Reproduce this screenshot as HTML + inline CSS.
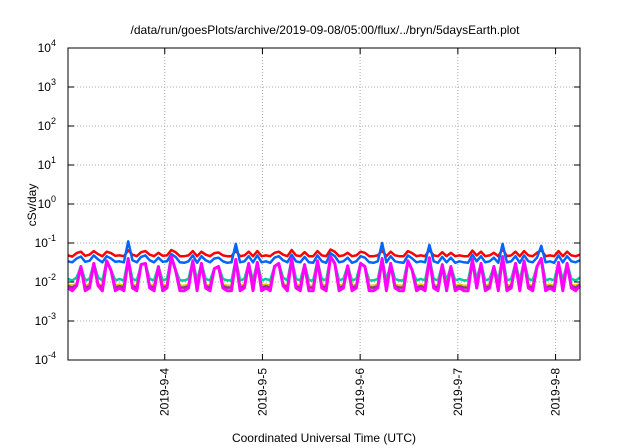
<!DOCTYPE html>
<html><head><meta charset="utf-8"><style>
html,body{margin:0;padding:0;background:#fff;}
svg{display:block;font-family:"Liberation Sans",sans-serif;}
</style></head><body>
<svg id="chart" width="640" height="448" viewBox="0 0 640 448">
<text x="325" y="34" font-size="12" text-anchor="middle">/data/run/goesPlots/archive/2019-09-08/05:00/flux/../bryn/5daysEarth.plot</text>
<text transform="translate(36,205) rotate(-90)" font-size="12" text-anchor="middle">cSv/day</text>
<text x="324" y="442" font-size="12" text-anchor="middle">Coordinated Universal Time (UTC)</text>
<g id="grid"></g><g id="series"></g><g id="axes"></g>
</svg>
<script>
const yTickExps=[-4,-3,-2,-1,0,1,2,3,4];
const xTickDays=[4,5,6,7,8];
const xTickLabels=["2019-9-4","2019-9-5","2019-9-6","2019-9-7","2019-9-8"];
const seriesColors=["#ff0000","#0066ff","#00c8a0","#e8c000","#8b3a8b","#ff00ff"];
const red=[48,45,55,60,47,50,62,52,46,60,55,47,48,46,65,50,46,58,62,50,46,56,47,48,66,58,46,46,48,62,46,60,50,46,55,57,48,46,46,64,46,48,60,46,62,46,48,46,56,60,50,46,66,48,46,58,46,46,62,48,
46,68,60,46,48,56,46,48,60,56,46,46,48,64,46,60,48,46,46,62,55,46,48,46,66,48,46,58,46,56,46,48,46,46,64,48,60,46,48,56,46,70,46,48,60,46,62,48,46,56,66,46,48,46,62,46,60,48,46,50];
const blue=[34,32,40,45,33,35,48,38,32,46,40,33,34,32,110,36,32,44,48,36,32,42,33,34,52,44,32,31,34,48,31,46,36,32,40,42,34,31,32,95,32,34,46,32,48,32,34,31,42,46,36,32,50,34,32,44,32,31,48,34,
31,55,46,32,34,42,31,34,46,42,32,31,34,100,32,46,34,32,31,48,40,32,34,32,90,34,31,44,32,42,31,34,32,31,50,34,46,32,34,42,31,95,32,34,46,31,48,34,32,42,85,32,34,31,48,32,46,34,32,36];
const teal=[12,11,13,25,11,12,30,13,11,35,20,11,12,11,40,12,11,28,30,12,11,25,11,12,45,20,11,11,12,35,11,30,12,11,22,25,12,11,11,38,11,12,30,11,32,11,12,11,25,30,13,11,40,12,11,28,11,11,35,12,
11,45,30,11,12,26,11,12,30,25,11,11,12,40,11,30,12,11,11,35,20,11,12,11,42,12,11,28,11,25,11,12,11,11,38,12,30,11,12,25,11,45,11,12,30,11,35,12,11,25,40,11,12,11,32,11,30,12,11,13];
const yellow=[8.6,8,9,25,8,8.6,30,9,8,35,20,8,8.6,8,40,8.6,8,28,30,8.6,8,25,8,8.6,45,20,8,8,8.6,35,8,30,8.6,8,22,25,8.6,8,8,38,8,8.6,30,8,32,8,8.6,8,25,30,9,8,40,8.6,8,28,8,8,35,8.6,
8,45,30,8,8.6,26,8,8.6,30,25,8,8,8.6,40,8,30,8.6,8,8,35,20,8,8.6,8,42,8.6,8,28,8,25,8,8.6,8,8,38,8.6,30,8,8.6,25,8,45,8,8.6,30,8,35,8.6,8,25,40,8,8.6,8,32,8,30,8.6,8,9];
const purple=[7.8,7.2,8.5,25,7.2,7.8,30,8.5,7.2,35,20,7.2,7.8,7.2,40,7.8,7.2,28,30,7.8,7.2,25,7.2,7.8,45,20,7.2,7.2,7.8,35,7.2,30,7.8,7.2,22,25,7.8,7.2,7.2,38,7.2,7.8,30,7.2,32,7.2,7.8,7.2,25,30,8.5,7.2,40,7.8,7.2,28,7.2,7.2,35,7.8,
7.2,45,30,7.2,7.8,26,7.2,7.8,30,25,7.2,7.2,7.8,40,7.2,30,7.8,7.2,7.2,35,20,7.2,7.8,7.2,42,7.8,7.2,28,7.2,25,7.2,7.8,7.2,7.2,38,7.8,30,7.2,7.8,25,7.2,45,7.2,7.8,30,7.2,35,7.8,7.2,25,40,7.2,7.8,7.2,32,7.2,30,7.8,7.2,8.5];
const magenta=[7,6,8,25,6,7,30,8,6,35,20,6,7,6,40,7,6,28,30,7,6,25,6,7,45,20,6,6,7,35,6,30,7,6,22,25,7,6,6,38,6,7,30,6,32,6,7,6,25,30,8,6,40,7,6,28,6,6,35,7,
6,45,30,6,7,26,6,7,30,25,6,6,7,40,6,30,7,6,6,35,20,6,7,6,42,7,6,28,6,25,6,7,6,6,38,7,30,6,7,25,6,45,6,7,30,6,35,7,6,25,40,6,7,6,32,6,30,7,6,8];
const L=68,R=580,T=48,B=360,D0=3.01,D1=8.25;
const xs=d=>L+(d-D0)/(D1-D0)*(R-L);
const ys=v=>B-(Math.log10(v)+4)/8*(B-T);
const NS="http://www.w3.org/2000/svg";
function mk(tag,attrs,parent){const e=document.createElementNS(NS,tag);for(const k in attrs)e.setAttribute(k,attrs[k]);parent.appendChild(e);return e;}
const grid=document.getElementById('grid'),axes=document.getElementById('axes'),ser=document.getElementById('series');
yTickExps.forEach(e=>{const y=ys(Math.pow(10,e));
 if(e>-4&&e<4){const g=mk('line',{x1:L,x2:R,y1:y,y2:y,stroke:'#aaa','stroke-dasharray':'1,2','stroke-width':1},grid);
 
 }
 const t1=mk('line',{x1:L,x2:L+6,y1:y,y2:y,stroke:'#000'},axes);
 
 
 const t2=mk('line',{x1:R,x2:R-6,y1:y,y2:y,stroke:'#000'},axes);
 
 
 const tx=mk('text',{x:56,y:y+4,'font-size':12,'text-anchor':'end'},axes);
 
 
 tx.textContent='10';const sp=mk('tspan',{dy:-6,'font-size':9},tx);sp.textContent=String(e);
});
xTickDays.forEach((d,i)=>{const x=xs(d);
 const g=mk('line',{x1:x,x2:x,y1:T,y2:B,stroke:'#aaa','stroke-dasharray':'1,2'},grid);
 
 
 const t=mk('line',{x1:x,x2:x,y1:B,y2:B-6,stroke:'#000'},axes);
 
 
 const t2=mk('line',{x1:x,x2:x,y1:T,y2:T+6,stroke:'#000'},axes);
 
 
 const tx=mk('text',{transform:`translate(${x+4},${B+8}) rotate(-90)`,'font-size':12,'text-anchor':'end'},axes);
 
 
 tx.textContent=xTickLabels[i];
});
const frame=mk('rect',{x:L,y:T,width:R-L,height:B-T,fill:'none',stroke:'#000','stroke-width':1},axes);


const all=[red,blue,teal,yellow,purple,magenta];
const names=['series-red','series-blue','series-teal','series-yellow','series-purple','series-magenta'];
all.forEach((arr,si)=>{
 const pts=arr.map((v,i)=>xs(D0+i*(D1-D0)/(arr.length-1)).toFixed(1)+','+ys(v/1000).toFixed(1)).join(' ');
 const p=mk('polyline',{points:pts,fill:'none',stroke:seriesColors[si],'stroke-width':si==5?3:2.5,'stroke-linejoin':'round'},ser);
 
 
});
</script>
</body></html>
